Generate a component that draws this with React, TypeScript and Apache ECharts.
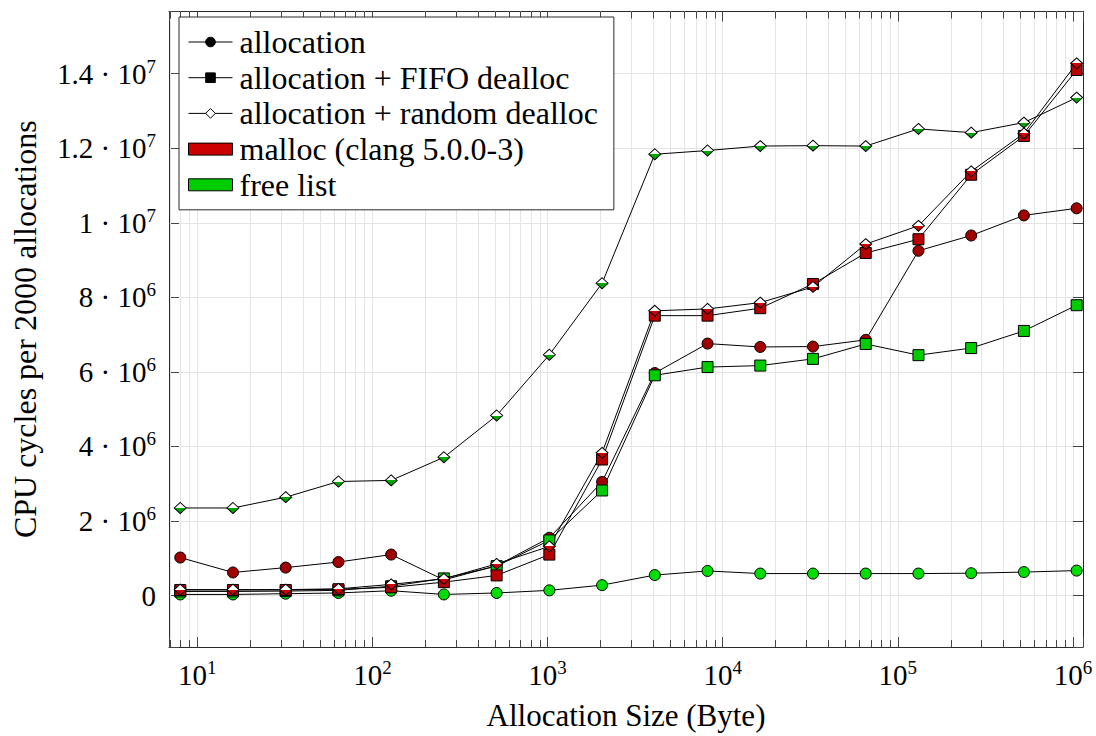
import React, { useEffect, useRef } from 'react';
import * as echarts from 'echarts';

const FONT = 'Liberation Serif';

// Allocation sizes (bytes)
const SIZES = [8, 16, 32, 64, 128, 256, 512, 1024, 2048, 4096, 8192, 16384, 32768, 65536, 131072, 262144, 524288, 1048576];

// CPU cycles per 2000 allocations
const MALLOC_ALLOC = [1020000, 620000, 750000, 900000, 1100000, 420000, 800000, 1550000, 3050000, 5970000, 6760000, 6670000, 6680000, 6860000, 9250000, 9660000, 10200000, 10390000];
const MALLOC_FIFO = [150000, 150000, 150000, 170000, 220000, 360000, 540000, 1100000, 3650000, 7510000, 7510000, 7710000, 8360000, 9190000, 9560000, 11290000, 12330000, 14100000];
const MALLOC_RANDOM = [160000, 160000, 160000, 180000, 300000, 450000, 850000, 1320000, 3830000, 7640000, 7690000, 7860000, 8280000, 9430000, 9920000, 11380000, 12400000, 14280000];
const FREELIST_ALLOC = [30000, 30000, 50000, 70000, 130000, 30000, 70000, 140000, 280000, 550000, 660000, 590000, 590000, 590000, 590000, 600000, 630000, 670000];
const FREELIST_FIFO = [110000, 110000, 120000, 140000, 250000, 460000, 790000, 1480000, 2820000, 5910000, 6130000, 6170000, 6350000, 6750000, 6450000, 6640000, 7100000, 7790000];
const FREELIST_RANDOM = [2350000, 2350000, 2640000, 3060000, 3090000, 3710000, 4830000, 6460000, 8380000, 11840000, 11940000, 12060000, 12070000, 12060000, 12520000, 12420000, 12690000, 13360000];

// minor x tick positions (log axis)
const MINOR_X_TICKS = [
  7, 8, 9,
  20, 30, 40, 50, 60, 70, 80, 90,
  200, 300, 400, 500, 600, 700, 800, 900,
  2000, 3000, 4000, 5000, 6000, 7000, 8000, 9000,
  20000, 30000, 40000, 50000, 60000, 70000, 80000, 90000,
  200000, 300000, 400000, 500000, 600000, 700000, 800000, 900000,
];

const LEGEND_NAMES = ['allocation', 'allocation + FIFO dealloc', 'allocation + random dealloc', 'malloc (clang 5.0.0-3)', 'free list'];

const X_MIN = 6.9;
const X_MAX = 1.14e6;
const Y_MIN = -1.38e6;
const Y_MAX = 1.567e7;

const RED_CIRCLE = '#a00000';
const RED_SQUARE = '#b80000';
const RED_DIAMOND = '#cc0000';
const GREEN_CIRCLE = '#00dd00';
const GREEN_SQUARE = '#00cc00';
const GREEN_DIAMOND = '#00a800';
const RED_LEGEND = '#cc0000';
const GREEN_LEGEND = '#00cc00';

const GRID_COLOR = '#e4e4e4';
const FRAME_COLOR = '#2a2a2a';
const TICK_COLOR = '#444';

function halfFill(color: string) {
  return new echarts.graphic.LinearGradient(0, 0, 0, 1, [
    { offset: 0, color: '#ffffff' },
    { offset: 0.5, color: '#ffffff' },
    { offset: 0.5, color },
    { offset: 1, color },
  ]);
}

function pairs(vals: number[]) {
  return SIZES.map((s, i) => [s, vals[i]]);
}

const richTick = {
  b: { fontFamily: FONT, fontSize: 29, color: '#000', lineHeight: 34 },
  s: { fontFamily: FONT, fontSize: 19, color: '#000', lineHeight: 19, verticalAlign: 'top' },
};

function xLabel(v: number) {
  const k = Math.log10(v);
  const r = Math.round(k);
  if (Math.abs(k - r) > 1e-6) return '';
  return `{b|10}{s|${r}}`;
}

function yLabel(v: number) {
  if (Math.abs(v) < 1) return '{b|0}';
  const q = v / 2e6;
  if (Math.abs(q - Math.round(q)) > 1e-6) return '';
  const exp = Math.floor(Math.log10(Math.abs(v)) + 1e-9);
  const m = Number((v / Math.pow(10, exp)).toFixed(2));
  return `{b|${m} · 10}{s|${exp}}`;
}

function dataSeries(name: string, vals: number[], symbol: string, size: any, color: any) {
  return {
    name,
    type: 'line',
    data: pairs(vals),
    symbol,
    symbolSize: size,
    showAllSymbol: true,
    z: 3,
    silent: true,
    lineStyle: { color: '#000', width: 1 },
    itemStyle: { color, borderColor: '#000', borderWidth: 1, opacity: 1 },
    emphasis: { disabled: true },
  };
}

function legendSeries(name: string, symbol: string, fill: string) {
  return {
    name,
    type: 'line',
    data: [],
    symbol,
    symbolSize: 10,
    lineStyle: { color: '#000', width: 1 },
    itemStyle: { color: fill, borderColor: '#000', borderWidth: 1 },
  };
}

export default function App() {
  const ref = useRef<HTMLDivElement>(null);

  useEffect(() => {
    if (!ref.current) return;
    const chart = echarts.init(ref.current, undefined, { renderer: 'svg' });

    const option: any = {
      animation: false,
      backgroundColor: '#ffffff',
      textStyle: { fontFamily: FONT, color: '#000' },
      grid: { left: 169, right: 13, top: 11.5, bottom: 88.5, containLabel: false },
      legend: {
        left: 179,
        top: 17,
        orient: 'vertical',
        selectedMode: false,
        backgroundColor: '#ffffff',
        borderColor: FRAME_COLOR,
        borderWidth: 1,
        borderRadius: 0,
        padding: [9, 16, 9, 9],
        itemWidth: 44,
        itemHeight: 12,
        itemGap: 3.7,
        textStyle: { fontFamily: FONT, fontSize: 32, color: '#000', lineHeight: 32, padding: [0, 0, 0, 2] },
        data: [
          { name: LEGEND_NAMES[0], itemStyle: { color: '#000', borderColor: '#000', borderWidth: 1 }, lineStyle: { color: '#000', width: 1 } },
          { name: LEGEND_NAMES[1], itemStyle: { color: '#000', borderColor: '#000', borderWidth: 1 }, lineStyle: { color: '#000', width: 1 } },
          { name: LEGEND_NAMES[2], itemStyle: { color: '#fff', borderColor: '#000', borderWidth: 1 }, lineStyle: { color: '#000', width: 1 } },
          { name: LEGEND_NAMES[3], icon: 'rect', itemStyle: { color: RED_LEGEND, borderColor: '#000', borderWidth: 1 } },
          { name: LEGEND_NAMES[4], icon: 'rect', itemStyle: { color: GREEN_LEGEND, borderColor: '#000', borderWidth: 1 } },
        ],
      },
      xAxis: [
        {
          type: 'log',
          logBase: 10,
          min: X_MIN,
          max: X_MAX,
          position: 'bottom',
          axisLine: { show: true, onZero: false, lineStyle: { color: FRAME_COLOR, width: 1 } },
          axisTick: { show: true, inside: true, length: 10, lineStyle: { color: TICK_COLOR, width: 1 } },
          axisLabel: { show: true, margin: 11, formatter: xLabel, rich: richTick, fontFamily: FONT, color: '#000' },
          splitLine: { show: true, lineStyle: { color: GRID_COLOR, width: 1 } },
          name: 'Allocation Size (Byte)',
          nameLocation: 'middle',
          nameGap: 53,
          nameTextStyle: { fontFamily: FONT, fontSize: 31, color: '#000' },
        },
        {
          type: 'log',
          logBase: 10,
          min: X_MIN,
          max: X_MAX,
          position: 'top',
          axisLine: { show: true, onZero: false, lineStyle: { color: FRAME_COLOR, width: 1 } },
          axisTick: { show: true, inside: true, length: 10, lineStyle: { color: TICK_COLOR, width: 1 } },
          axisLabel: { show: false },
          splitLine: { show: false },
        },
      ],
      yAxis: [
        {
          type: 'value',
          min: Y_MIN,
          max: Y_MAX,
          minInterval: 2e6,
          maxInterval: 2e6,
          position: 'left',
          axisLine: { show: true, onZero: false, lineStyle: { color: FRAME_COLOR, width: 1 } },
          axisTick: { show: true, inside: true, length: 10, lineStyle: { color: TICK_COLOR, width: 1 } },
          axisLabel: { show: true, margin: 13, formatter: yLabel, rich: richTick, fontFamily: FONT, color: '#000' },
          splitLine: { show: true, lineStyle: { color: GRID_COLOR, width: 1 } },
          name: 'CPU cycles per 2000 allocations',
          nameLocation: 'middle',
          nameGap: 128,
          nameTextStyle: { fontFamily: FONT, fontSize: 32, color: '#000' },
        },
        {
          type: 'value',
          min: Y_MIN,
          max: Y_MAX,
          minInterval: 2e6,
          maxInterval: 2e6,
          position: 'right',
          axisLine: { show: true, onZero: false, lineStyle: { color: FRAME_COLOR, width: 1 } },
          axisTick: { show: true, inside: true, length: 10, lineStyle: { color: TICK_COLOR, width: 1 } },
          axisLabel: { show: false },
          splitLine: { show: false },
        },
      ],
      series: [
        {
          name: 'minor-ticks',
          type: 'custom',
          silent: true,
          z: 1,
          clip: false,
          data: MINOR_X_TICKS.map((v) => [v, 0]),
          encode: { x: 0, y: 1 },
          renderItem: (params: any, api: any) => {
            const px = Math.round(api.coord([api.value(0), 0])[0]) + 0.5;
            const cs = params.coordSys;
            const top = cs.y;
            const bottom = cs.y + cs.height;
            return {
              type: 'group',
              children: [
                { type: 'line', shape: { x1: px, y1: top, x2: px, y2: bottom }, style: { stroke: GRID_COLOR, lineWidth: 1 } },
                { type: 'line', shape: { x1: px, y1: bottom, x2: px, y2: bottom - 7 }, style: { stroke: TICK_COLOR, lineWidth: 1 } },
                { type: 'line', shape: { x1: px, y1: top, x2: px, y2: top + 7 }, style: { stroke: TICK_COLOR, lineWidth: 1 } },
              ],
            };
          },
        },
        dataSeries('malloc allocation', MALLOC_ALLOC, 'circle', 11, RED_CIRCLE),
        dataSeries('free list allocation', FREELIST_ALLOC, 'circle', 11, GREEN_CIRCLE),
        dataSeries('free list FIFO', FREELIST_FIFO, 'rect', 11, GREEN_SQUARE),
        dataSeries('malloc FIFO', MALLOC_FIFO, 'rect', 11, RED_SQUARE),
        dataSeries('malloc random', MALLOC_RANDOM, 'diamond', [12, 11], halfFill(RED_DIAMOND)),
        dataSeries('free list random', FREELIST_RANDOM, 'diamond', [12, 11], halfFill(GREEN_DIAMOND)),
        legendSeries(LEGEND_NAMES[0], 'circle', '#000'),
        legendSeries(LEGEND_NAMES[1], 'rect', '#000'),
        legendSeries(LEGEND_NAMES[2], 'diamond', '#fff'),
        legendSeries(LEGEND_NAMES[3], 'rect', RED_LEGEND),
        legendSeries(LEGEND_NAMES[4], 'rect', GREEN_LEGEND),
      ],
    };

    chart.setOption(option);
    return () => chart.dispose();
  }, []);

  return <div ref={ref} style={{ position: 'absolute', left: 0, top: 0, width: 1096, height: 736 }} />;
}
